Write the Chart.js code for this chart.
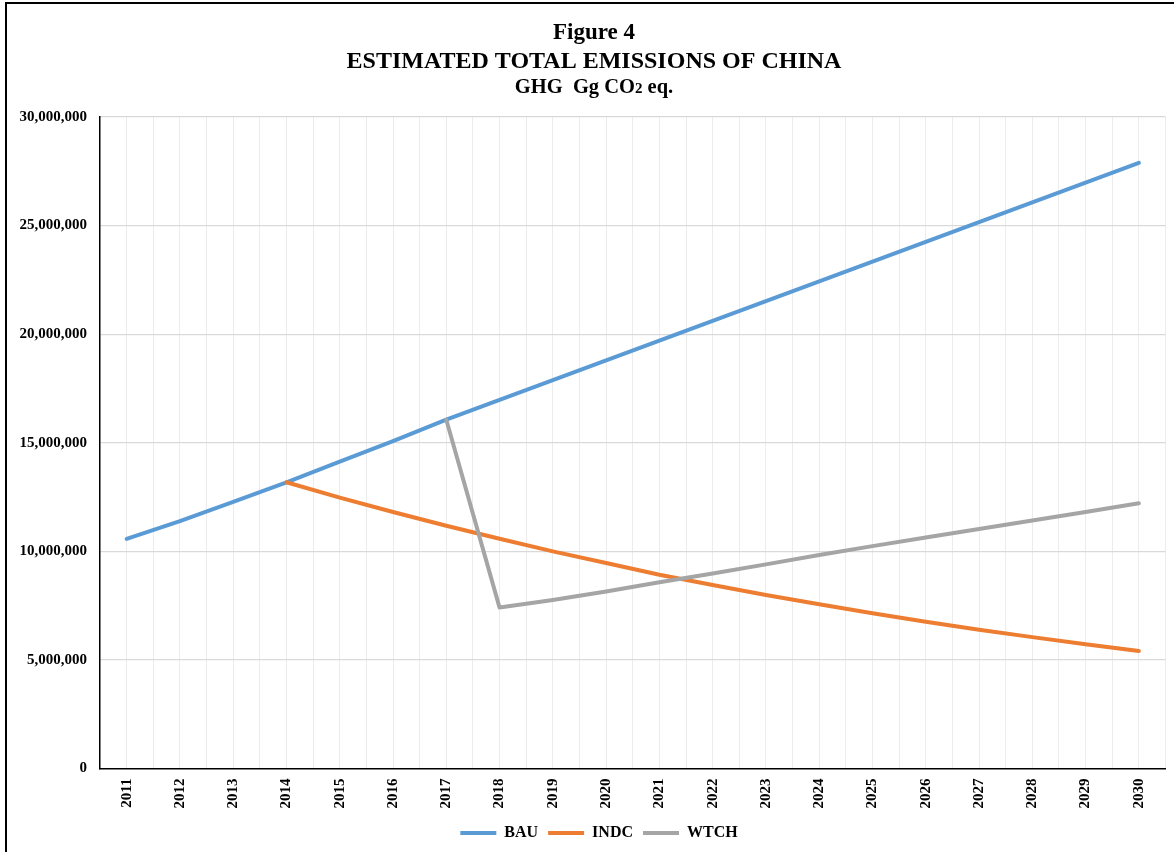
<!DOCTYPE html>
<html>
<head>
<meta charset="utf-8">
<title>Estimated total emissions of China</title>
<script src="https://cdn.jsdelivr.net/npm/chart.js@4.4.1/dist/chart.umd.min.js"></script>
<style>
  html, body { margin: 0; padding: 0; background: #fff; overflow: hidden; }
  #frame {
    position: absolute; left: 5px; top: 2px; width: 1300px; height: 1000px;
    border-left: 2px solid #000; border-top: 2px solid #000; box-sizing: border-box;
  }
  #chart { position: absolute; left: 0; top: 0; }
</style>
</head>
<body>
<div id="frame"></div>
<canvas id="chart" width="1174" height="852"></canvas>
<script>
// Years on the horizontal axis
const years = ['2011', '2012', '2013', '2014', '2015', '2016', '2017', '2018', '2019', '2020',
               '2021', '2022', '2023', '2024', '2025', '2026', '2027', '2028', '2029', '2030'];

// Business as usual (GHG, Gg CO2 eq.)
const bau = [10570000, 11390000, 12280000, 13180000, 14130000, 15080000, 16060000, 16970000,
             17880000, 18790000, 19700000, 20610000, 21520000, 22430000, 23340000, 24250000,
             25160000, 26070000, 26980000, 27890000];

// INDC pathway, starting from 2014
const indc = [null, null, null, 13180000, 12470000, 11810000, 11180000, 10580000, 10000000,
              9460000, 8920000, 8450000, 7990000, 7560000, 7150000, 6760000, 6390000,
              6050000, 5720000, 5410000];

// WTCH pathway, starting from 2017
const wtch = [null, null, null, null, null, null, 16060000, 7410000, 7760000, 8150000,
              8580000, 8980000, 9400000, 9830000, 10240000, 10640000, 11030000, 11420000,
              11810000, 12210000];

// Y axis range and step
const yMin = 0, yMax = 30000000, yStep = 5000000;

const seriesNames = ['BAU', 'INDC', 'WTCH'];
const seriesColors = ['#5b9bd5', '#ed7d31', '#a5a5a5'];

const SERIF = "'Liberation Serif', 'Times New Roman', Times, serif";

// Three centred heading lines; the "2" of CO2 is set slightly smaller
const headingPlugin = {
  id: 'heading',
  afterDraw(chart) {
    const ctx = chart.ctx;
    const cx = 594;
    ctx.save();
    ctx.fillStyle = '#000';
    ctx.textBaseline = 'alphabetic';
    ctx.textAlign = 'center';
    ctx.font = 'bold 23px ' + SERIF;
    ctx.fillText('Figure 4', cx, 39);
    ctx.font = 'bold 24px ' + SERIF;
    ctx.fillText('ESTIMATED TOTAL EMISSIONS OF CHINA', cx, 68);

    const parts = [
      { t: 'GHG  Gg CO', f: 'bold 20.5px ' + SERIF },
      { t: '2', f: 'bold 15px ' + SERIF },
      { t: ' eq.', f: 'bold 20.5px ' + SERIF }
    ];
    let total = 0;
    parts.forEach(p => { ctx.font = p.f; p.w = ctx.measureText(p.t).width; total += p.w; });
    let x = cx - total / 2;
    ctx.textAlign = 'left';
    parts.forEach(p => { ctx.font = p.f; ctx.fillText(p.t, x, 93); x += p.w; });
    ctx.restore();
  }
};

// Centre the legend under the same middle line as the heading
const legendShift = {
  id: 'legendShift',
  afterLayout(chart) {
    const lg = chart.legend;
    if (!lg) return;
    const dx = 594 - (lg.left + lg.right) / 2 + 5;
    lg.left += dx;
    lg.right += dx;
  }
};

const lineDataset = (i, values) => ({
  label: seriesNames[i],
  data: values,
  borderColor: seriesColors[i],
  backgroundColor: seriesColors[i],
  borderWidth: 4,
  borderCapStyle: 'round',
  borderJoinStyle: 'round',
  pointRadius: 0,
  pointHoverRadius: 0,
  tension: 0,
  spanGaps: false,
  order: 3 - i
});

new Chart(document.getElementById('chart'), {
  type: 'line',
  data: {
    labels: years,
    datasets: [lineDataset(0, bau), lineDataset(1, indc), lineDataset(2, wtch)]
  },
  plugins: [headingPlugin, legendShift],
  options: {
    responsive: false,
    animation: false,
    devicePixelRatio: 1,
    layout: { padding: { top: 117, left: 0, right: 8.5, bottom: 1 } },
    plugins: {
      title: { display: false },
      tooltip: { enabled: false },
      legend: {
        display: true,
        position: 'bottom',
        labels: {
          usePointStyle: true,
          pointStyle: 'line',
          pointStyleWidth: 36,
          padding: 10,
          color: '#000',
          font: { family: SERIF, size: 16, weight: 'bold' },
          sort: (a, b) => a.datasetIndex - b.datasetIndex
        }
      }
    },
    scales: {
      x: {
        type: 'category',
        offset: true,
        position: 'bottom',
        grid: { display: true, offset: false, color: '#ececec', lineWidth: 1, drawTicks: false, z: -1 },
        border: { display: true, color: '#000', width: 1.5 },
        ticks: {
          autoSkip: false,
          minRotation: 90,
          maxRotation: 90,
          padding: 10,
          color: '#000',
          font: { family: SERIF, size: 15, weight: 'bold' }
        },
        afterFit: s => { s.height = 46.5; }
      },
      xEdges: {
        type: 'category',
        offset: true,
        position: 'bottom',
        grid: {
          display: true, offset: true, drawTicks: false, lineWidth: 1, z: -1,
          color: c => (c.index === 0 ? 'rgba(0,0,0,0)' : '#ececec')
        },
        border: { display: false },
        ticks: { display: false },
        afterFit: s => { s.height = 0; }
      },
      y: {
        type: 'linear',
        min: yMin,
        max: yMax,
        grid: {
          color: c => (c.index === 0 ? 'rgba(0,0,0,0)' : '#d9d9d9'),
          lineWidth: 1.2, drawTicks: false, z: -1
        },
        border: { display: true, color: '#000', width: 1.5 },
        ticks: {
          stepSize: yStep,
          padding: 13,
          color: '#000',
          font: { family: SERIF, size: 15, weight: 'bold' },
          callback: v => Number(v).toLocaleString('en-US')
        },
        afterFit: s => { s.width = 100; }
      }
    }
  }
});
</script>
</body>
</html>
